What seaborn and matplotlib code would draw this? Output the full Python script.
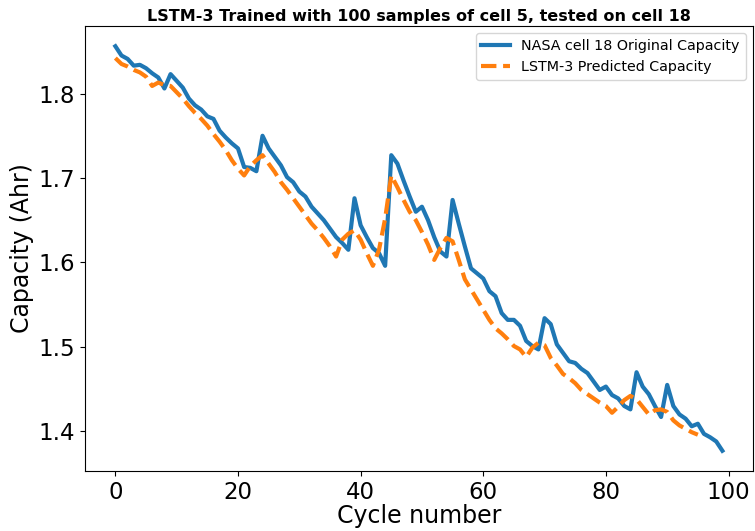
import matplotlib
matplotlib.use("Agg")
import numpy as np
import pandas as pd
import seaborn as sns
import matplotlib.pyplot as plt

original_capacity = [
    1.856, 1.845, 1.841, 1.833, 1.834, 1.830, 1.824, 1.819, 1.806, 1.823,
    1.815, 1.807, 1.794, 1.786, 1.781, 1.773, 1.770, 1.756, 1.748, 1.741,
    1.735, 1.713, 1.712, 1.708, 1.750, 1.735, 1.725, 1.715, 1.701, 1.695,
    1.684, 1.678, 1.666, 1.658, 1.650, 1.640, 1.630, 1.623, 1.615, 1.676,
    1.644, 1.630, 1.617, 1.611, 1.596, 1.727, 1.717, 1.697, 1.678, 1.660,
    1.666, 1.650, 1.630, 1.613, 1.607, 1.674, 1.646, 1.619, 1.593, 1.587,
    1.581, 1.566, 1.560, 1.540, 1.532, 1.532, 1.525, 1.507, 1.501, 1.497,
    1.534, 1.527, 1.503, 1.493, 1.483, 1.481, 1.474, 1.469, 1.459, 1.449,
    1.453, 1.443, 1.439, 1.430, 1.426, 1.470, 1.453, 1.444, 1.430, 1.417,
    1.455, 1.430, 1.420, 1.415, 1.406, 1.409, 1.397, 1.393, 1.388, 1.377,
]

predicted_capacity = [
    1.842, 1.835, 1.832, 1.828, 1.825, 1.820, 1.809, 1.813, 1.810, 1.809,
    1.8015, 1.794, 1.785, 1.777, 1.770, 1.762, 1.752, 1.743, 1.733, 1.721,
    1.711, 1.703, 1.714, 1.721, 1.727, 1.717, 1.707, 1.695, 1.686, 1.676,
    1.666, 1.656, 1.646, 1.638, 1.629, 1.619, 1.607, 1.627, 1.634, 1.638,
    1.627, 1.611, 1.596, 1.615, 1.652, 1.703, 1.689, 1.674, 1.660, 1.650,
    1.636, 1.621, 1.603, 1.617, 1.629, 1.625, 1.603, 1.580, 1.568, 1.556,
    1.544, 1.532, 1.522, 1.516, 1.509, 1.501, 1.497, 1.488, 1.499, 1.505,
    1.502, 1.487, 1.478, 1.468, 1.463, 1.457, 1.449, 1.444, 1.439, 1.434,
    1.430, 1.422, 1.429, 1.437, 1.442, 1.438, 1.429, 1.420, 1.425, 1.426,
    1.423, 1.413, 1.407, 1.403, 1.399, 1.396,
]

original_label = "NASA cell 18 Original Capacity"
predicted_label = "LSTM-3 Predicted Capacity"
title = "LSTM-3 Trained with 100 samples of cell 5, tested on cell 18"
xlabel = "Cycle number"
ylabel = "Capacity (Ahr)"

df_orig = pd.DataFrame({"cycle": np.arange(len(original_capacity)),
                        "capacity": original_capacity})
df_pred = pd.DataFrame({"cycle": np.arange(len(predicted_capacity)),
                        "capacity": predicted_capacity})

fig, ax = plt.subplots(figsize=(7.55, 5.31), dpi=100)
fig.subplots_adjust(left=0.1126, right=0.997, bottom=0.113, top=0.951)

sns.lineplot(data=df_orig, x="cycle", y="capacity", ax=ax, color="#1f77b4",
             linewidth=3, label=original_label)
sns.lineplot(data=df_pred, x="cycle", y="capacity", ax=ax, color="#ff7f0e",
             linewidth=3, linestyle="--", label=predicted_label)

ax.set_title(title, fontsize=11.5, fontweight="bold", pad=3.5)
ax.set_xlabel(xlabel, fontsize=17, labelpad=0)
ax.set_ylabel(ylabel, fontsize=17, labelpad=3)
ax.tick_params(axis="both", labelsize=16.5)
ax.set_xticks([0, 20, 40, 60, 80, 100])
ax.set_yticks([1.4, 1.5, 1.6, 1.7, 1.8])
ax.legend(loc="upper right", fontsize=10.3)

fig.savefig("out.png", dpi=100)
